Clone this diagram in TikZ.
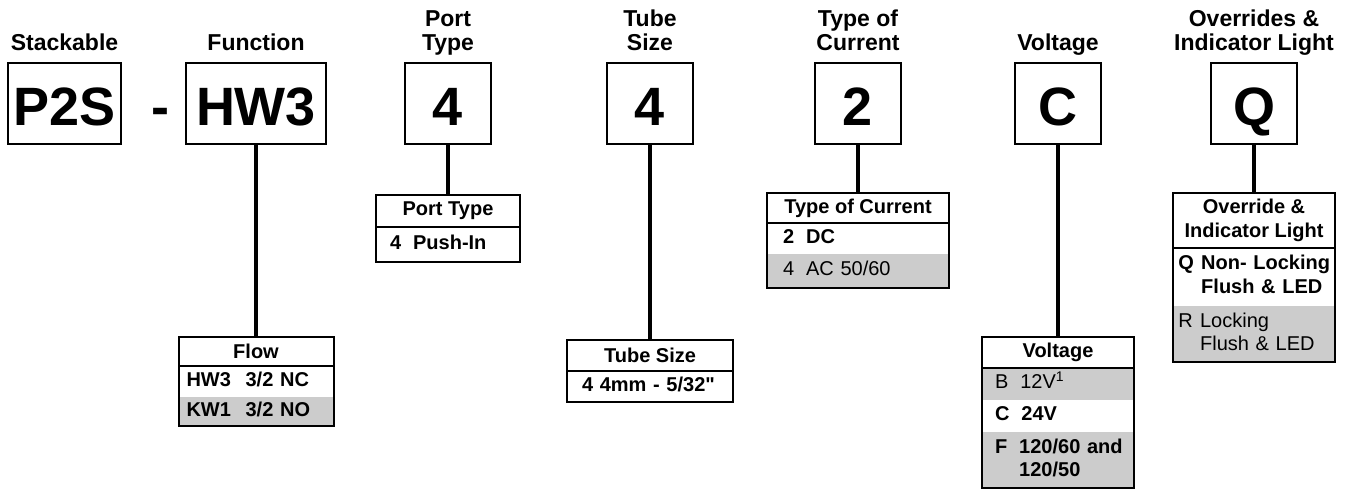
\documentclass[tikz,border=0pt]{standalone}
\usepackage{fontspec}
\setmainfont{Liberation Sans}
\usetikzlibrary{positioning}

\definecolor{optgrey}{HTML}{CCCCCC}
\newcommand{\lblfont}{\fontsize{17.25}{18}\selectfont\bfseries}
\newcommand{\codefont}{\fontsize{40.5}{40}\selectfont\bfseries}
\newcommand{\tabfont}{\fontsize{15}{17.5}\selectfont\bfseries}
\newcommand{\keyrow}[3][9pt]{\begin{tabular}{@{}l@{\hspace{#1}}l@{}}#2 & #3\end{tabular}}

\begin{document}
\begin{tikzpicture}[
    x=0.75pt, y=-0.75pt,
    field_lbl/.style={font=\lblfont, align=center, inner sep=0pt},
    code_box/.style={draw, line width=1.5pt, minimum width=64.5pt, minimum height=60.75pt, inner sep=0pt, text height=33.75pt, text depth=0pt, font=\codefont},
    tab_head/.style={draw, line width=1.5pt, fill=white, align=center, inner sep=0pt, outer sep=0pt, anchor=north, font=\tabfont},
    tab_row/.style={fill=white, align=left, inner ysep=0pt, outer sep=0pt, font=\tabfont},
    tab_frame/.style={draw, line width=1.5pt},
    opt_grey/.style={fill=optgrey},
    stem/.style={line width=3pt}
]
\useasboundingbox (0,0) rectangle (1351,491);

% Code fields
\node[code_box, minimum width=84.75pt] (stack) at (64.5,103.5) {P2S};
\node[font=\codefont, inner sep=0pt, anchor=base] (dash) at (160,126) {-};
\node[code_box, minimum width=105pt] (func) at (256,103.5) {HW3};
\node[code_box] (port) at (448,103.5) {4};
\node[code_box] (tube) at (650,103.5) {4};
\node[code_box] (curr) at (858,103.5) {2};
\node[code_box] (volt) at (1058,103.5) {C};
\node[code_box] (ovr) at (1254,103.5) {Q};

% Field labels
\node[field_lbl, anchor=base] (stack_lbl) at (64.5,51) {Stackable};
\node[field_lbl, anchor=base] (func_lbl) at (256,51) {Function};
\node[field_lbl, anchor=north] (port_lbl) at (448,10) {Port\\Type};
\node[field_lbl, anchor=north] (tube_lbl) at (650,10) {Tube\\Size};
\node[field_lbl, anchor=north] (curr_lbl) at (858,10) {Type of\\Current};
\node[field_lbl, anchor=base] (volt_lbl) at (1058,51) {Voltage};
\node[field_lbl, anchor=north] (ovr_lbl) at (1254,10) {Overrides \&\\Indicator Light};

% Option tables
\node[tab_head, minimum width=116.25pt, minimum height=21.75pt] (flow_head) at (256,337) {Flow};
\node[tab_row, text width=104.25pt, inner xsep=6pt, minimum height=23.25pt, below=0pt of flow_head] (flow_a) {\keyrow[11pt]{HW3}{3/2 NC}};
\node[tab_row, opt_grey, text width=104.25pt, inner xsep=6pt, minimum height=21.75pt, below=0pt of flow_a] (flow_b) {\keyrow[11pt]{KW1}{3/2 NO}};
\draw[tab_frame] (flow_head.north west) rectangle (flow_b.south east) (flow_head.south west) -- (flow_head.south east);

\node[tab_head, minimum width=108pt, minimum height=24pt] (port_head) at (448,195) {Port Type};
\node[tab_row, text width=87pt, inner xsep=10.5pt, minimum height=26.25pt, below=0pt of port_head] (port_a) {\keyrow{4}{Push-In}};
\draw[tab_frame] (port_head.north west) rectangle (port_a.south east) (port_head.south west) -- (port_head.south east);

\node[tab_head, minimum width=124.5pt, minimum height=23.25pt] (tube_head) at (650,340) {Tube Size};
\node[tab_row, text width=102pt, inner xsep=11.25pt, minimum height=23.25pt, below=0pt of tube_head] (tube_a) {\keyrow[5pt]{4}{4mm - 5/32\textquotedbl}};
\draw[tab_frame] (tube_head.north west) rectangle (tube_a.south east) (tube_head.south west) -- (tube_head.south east);

\node[tab_head, minimum width=136.5pt, minimum height=22.5pt] (curr_head) at (858,193) {Type of Current};
\node[tab_row, text width=112.5pt, inner xsep=12pt, minimum height=23.25pt, below=0pt of curr_head] (curr_a) {\keyrow{2}{DC}};
\node[tab_row, opt_grey, text width=112.5pt, inner xsep=12pt, minimum height=25.5pt, below=0pt of curr_a] (curr_b) {\mdseries\keyrow{4}{AC 50/60}};
\draw[tab_frame] (curr_head.north west) rectangle (curr_b.south east) (curr_head.south west) -- (curr_head.south east);

\node[tab_head, minimum width=114pt, minimum height=23.25pt] (volt_head) at (1058,337) {Voltage};
\node[tab_row, opt_grey, text width=94.5pt, inner xsep=9.75pt, minimum height=24pt, below=0pt of volt_head] (volt_a) {\mdseries\keyrow{B}{12V\textsuperscript{1}}};
\node[tab_row, text width=94.5pt, inner xsep=9.75pt, minimum height=24pt, below=0pt of volt_a] (volt_b) {\keyrow{C}{24V}};
\node[tab_row, opt_grey, text width=94.5pt, inner xsep=9.75pt, minimum height=42pt, below=0pt of volt_b] (volt_c) {\keyrow{F}{120/60 and\\ & 120/50}};
\draw[tab_frame] (volt_head.north west) rectangle (volt_c.south east) (volt_head.south west) -- (volt_head.south east);

\node[tab_head, minimum width=121.5pt, minimum height=41.25pt] (ovr_head) at (1254,193) {Override \&\\Indicator Light};
\node[tab_row, text width=113.5pt, inner xsep=4pt, minimum height=43.5pt, below=0pt of ovr_head] (ovr_a) {\keyrow[5.5pt]{Q}{Non- Locking\\ & Flush \& LED}};
\node[tab_row, opt_grey, text width=113.5pt, inner xsep=4pt, minimum height=42pt, below=0pt of ovr_a] (ovr_b) {\mdseries\keyrow[5.5pt]{R}{Locking\\ & Flush \& LED}};
\draw[tab_frame] (ovr_head.north west) rectangle (ovr_b.south east) (ovr_head.south west) -- (ovr_head.south east);

% Stems
\draw[stem] (func.south) -- (flow_head.north);
\draw[stem] (port.south) -- (port_head.north);
\draw[stem] (tube.south) -- (tube_head.north);
\draw[stem] (curr.south) -- (curr_head.north);
\draw[stem] (volt.south) -- (volt_head.north);
\draw[stem] (ovr.south) -- (ovr_head.north);

\end{tikzpicture}
\end{document}
